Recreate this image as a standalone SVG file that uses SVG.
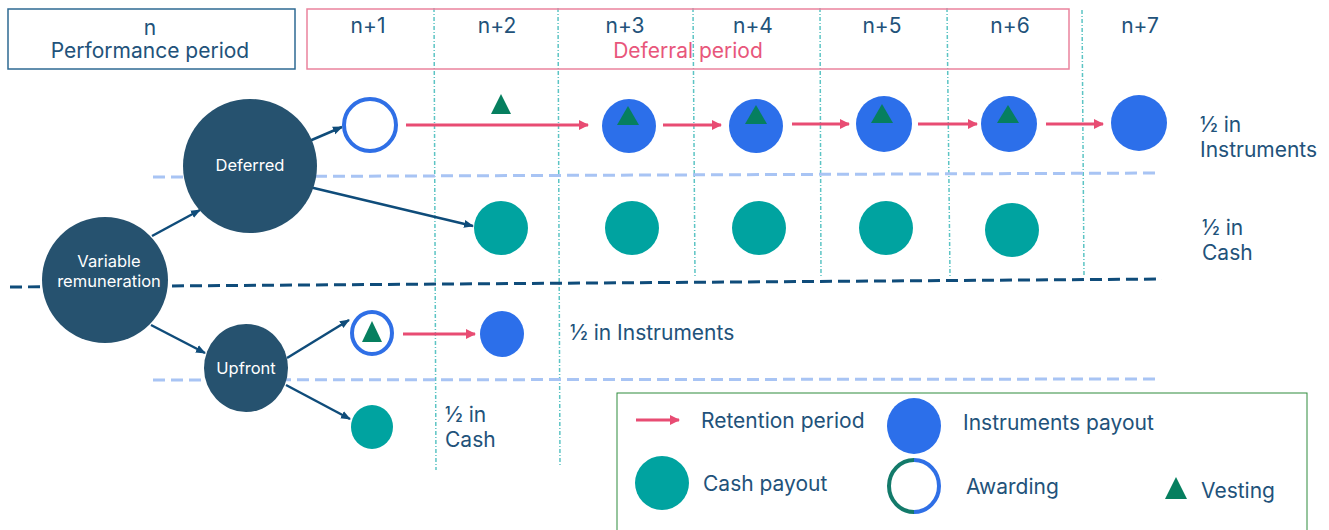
<svg xmlns="http://www.w3.org/2000/svg" width="1329" height="530" viewBox="0 0 1329 530">
<defs>
<marker id="ar" markerWidth="10" markerHeight="10" refX="9" refY="5" orient="auto" markerUnits="userSpaceOnUse"><path d="M0,0 L10,5 L0,10 Z" fill="#E84C73"/></marker>
<marker id="ad" markerWidth="10" markerHeight="10" refX="9" refY="5" orient="auto" markerUnits="userSpaceOnUse"><path d="M0,1 L10,5 L0,9 Z" fill="#0F4C7A"/></marker>
<linearGradient id="aw" x1="0" x2="1" y1="0" y2="0"><stop offset="0.5" stop-color="#137A6A"/><stop offset="0.5" stop-color="#2F6FE6"/></linearGradient>
</defs>
<style>
text{font-family:Inter,"Noto Sans","Liberation Sans",sans-serif;fill:#22527A;font-size:21px}
.w{fill:#fff;font-size:16.5px}
.node{fill:#26526F}
.inst{fill:#2C6FEA}
.cash{fill:#00A3A0}
.award{fill:#fff;stroke:#2F6FE6;stroke-width:4}
.tri{fill:#067F5F}
.vl{stroke:#5CC4C4;stroke-width:1.5;stroke-dasharray:4 2 1 2;fill:none}
.hl{stroke:#A8C4F4;stroke-width:3;stroke-dasharray:12 6;fill:none}
.red{stroke:#E84C73;stroke-width:3;fill:none;marker-end:url(#ar)}
.dk{stroke:#0F4C7A;stroke-width:2.5;fill:none;marker-end:url(#ad)}
</style>
<rect width="1329" height="530" fill="#fff"/>
<g id="grid">
<line class="vl" x1="434" y1="8" x2="436" y2="470"/>
<line class="vl" x1="558" y1="8" x2="560" y2="466"/>
<line class="vl" x1="693" y1="8" x2="695" y2="276"/>
<line class="vl" x1="820" y1="8" x2="821" y2="276"/>
<line class="vl" x1="947" y1="8" x2="950" y2="276"/>
<line class="vl" x1="1082" y1="10" x2="1084" y2="276"/>
<line class="hl" x1="153" y1="177" x2="1160" y2="173"/>
<line class="hl" x1="153" y1="380" x2="1160" y2="379"/>
<line x1="10" y1="287" x2="1162" y2="279" stroke="#0F4C7A" stroke-width="3" stroke-dasharray="12 6"/>
</g>
<g id="header-performance">
<rect x="8" y="9" width="287" height="60" fill="none" stroke="#2E6A93" stroke-width="1.5"/>
<text x="150" y="35" text-anchor="middle">n</text>
<text x="150" y="58" text-anchor="middle">Performance period</text>
</g>
<g id="header-deferral">
<rect x="307" y="9" width="762" height="60" fill="none" stroke="#EA839D" stroke-width="1.5"/>
<text x="688" y="58" text-anchor="middle" style="fill:#E8567B">Deferral period</text>
</g>
<g id="years">
<text x="368" y="33" text-anchor="middle">n+1</text>
<text x="497" y="33" text-anchor="middle">n+2</text>
<text x="625" y="33" text-anchor="middle">n+3</text>
<text x="753" y="33" text-anchor="middle">n+4</text>
<text x="882" y="33" text-anchor="middle">n+5</text>
<text x="1010" y="33" text-anchor="middle">n+6</text>
<text x="1140" y="33" text-anchor="middle">n+7</text>
</g>
<g id="connectors">
<line class="dk" x1="152" y1="236" x2="200" y2="210"/>
<line class="dk" x1="307" y1="142" x2="342" y2="127"/>
<line class="dk" x1="301" y1="185" x2="473" y2="226"/>
<line class="dk" x1="151" y1="325" x2="205" y2="353"/>
<line class="dk" x1="287" y1="358" x2="349" y2="320"/>
<line class="dk" x1="286" y1="385" x2="350" y2="419"/>
<line class="red" x1="406" y1="125" x2="588" y2="125"/>
<line class="red" x1="663" y1="125" x2="721" y2="125"/>
<line class="red" x1="792" y1="124" x2="849" y2="124"/>
<line class="red" x1="918" y1="124" x2="977" y2="124"/>
<line class="red" x1="1046" y1="124" x2="1103" y2="124"/>
<line class="red" x1="403" y1="334" x2="475" y2="334"/>
</g>
<g id="variable-remuneration">
<circle class="node" cx="105" cy="280" r="63"/>
<text class="w" x="109" y="267" text-anchor="middle">Variable</text>
<text class="w" x="109" y="287" text-anchor="middle">remuneration</text>
</g>
<g id="deferred">
<circle class="node" cx="250" cy="166" r="67"/>
<text class="w" x="250" y="171" text-anchor="middle">Deferred</text>
</g>
<g id="upfront">
<ellipse class="node" cx="246" cy="368" rx="42" ry="44"/>
<text class="w" x="246" y="374" text-anchor="middle">Upfront</text>
</g>
<g id="deferred-awarding">
<circle class="award" cx="370" cy="125" r="26"/>
</g>
<g id="vesting-n2">
<polygon class="tri" points="501,94 511,114 491,114"/>
</g>
<g id="instruments-deferred">
<circle class="inst" cx="629" cy="126" r="27"/>
<polygon class="tri" points="628,106 639,125 617,125"/>
<circle class="inst" cx="756" cy="126" r="27"/>
<polygon class="tri" points="756,105 767,124 745,124"/>
<circle class="inst" cx="884" cy="124" r="28"/>
<polygon class="tri" points="882,104 893,123 871,123"/>
<circle class="inst" cx="1009" cy="124" r="28"/>
<polygon class="tri" points="1008,105 1019,123 997,123"/>
<circle class="inst" cx="1139" cy="123" r="28"/>
</g>
<g id="cash-deferred">
<circle class="cash" cx="501" cy="228" r="27"/>
<circle class="cash" cx="632" cy="228" r="27"/>
<circle class="cash" cx="759" cy="228" r="27"/>
<circle class="cash" cx="886" cy="228" r="27"/>
<circle class="cash" cx="1012" cy="230" r="27"/>
</g>
<g id="upfront-instruments">
<ellipse class="award" cx="372" cy="333" rx="20" ry="21"/>
<polygon class="tri" points="372,321 382,342 362,342"/>
<ellipse class="inst" cx="502" cy="334" rx="22" ry="23"/>
</g>
<g id="upfront-cash">
<ellipse class="cash" cx="372" cy="427" rx="21" ry="22"/>
</g>
<g id="labels">
<text x="1200" y="132">½ in</text>
<text x="1200" y="157">Instruments</text>
<text x="1202" y="235">½ in</text>
<text x="1202" y="260">Cash</text>
<text x="570" y="340">½ in Instruments</text>
<text x="445" y="422">½ in</text>
<text x="445" y="447">Cash</text>
</g>
<g id="legend">
<rect x="617" y="393" width="690" height="145" fill="none" stroke="#2E8B3C" stroke-width="1"/>
<line class="red" x1="636" y1="420" x2="679" y2="420"/>
<text x="701" y="428">Retention period</text>
<ellipse class="inst" cx="914" cy="426" rx="27" ry="28"/>
<text x="963" y="430">Instruments payout</text>
<ellipse class="cash" cx="662" cy="483" rx="27" ry="27"/>
<text x="703" y="491">Cash payout</text>
<ellipse cx="914" cy="486" rx="25" ry="26" fill="#fff" stroke="url(#aw)" stroke-width="4"/>
<text x="966" y="494">Awarding</text>
<polygon class="tri" points="1176,477 1187,499 1165,499"/>
<text x="1201" y="498">Vesting</text>
</g>
</svg>
